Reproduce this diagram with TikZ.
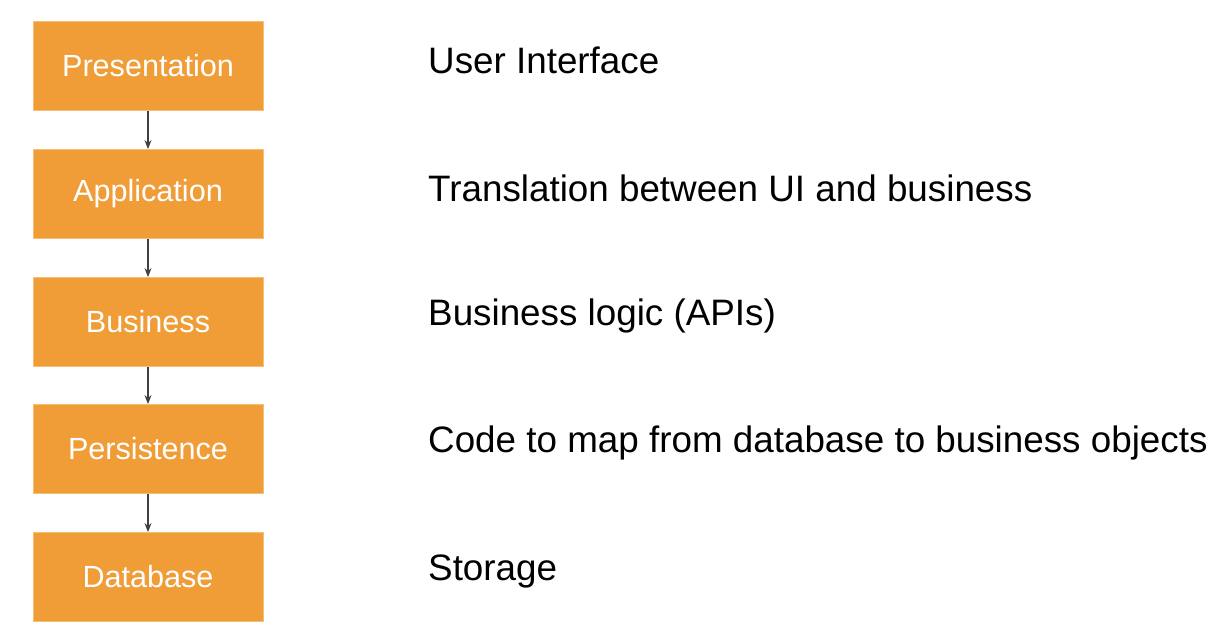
\documentclass[tikz,border=0pt]{standalone}
\usepackage{fontspec}
\setmainfont{Liberation Sans}
\usetikzlibrary{arrows.meta}
\definecolor{boxfill}{HTML}{F09D38}
\definecolor{boxline}{HTML}{F6BF78}
\definecolor{arrowc}{HTML}{404040}
\tikzset{
  layer/.style={draw=boxline, line width=0.8pt, fill=boxfill, minimum width=230pt, minimum height=89pt, inner sep=0pt, text=white, font=\fontsize{30.6}{36}\selectfont},
  desc/.style={anchor=west, inner sep=0pt, text=black, font=\fontsize{36.8}{44}\selectfont},
  link/.style={draw=arrowc, line width=1.4pt, -{Stealth[length=9pt,width=7pt]}}
}
\begin{document}
\begin{tikzpicture}[x=1pt,y=-1pt]
\useasboundingbox (0,0) rectangle (1230,644);
\node[layer] (p) at (148,66) {Presentation};
\node[layer] (a) at (148,194) {Application};
\node[layer] (b) at (148,322) {Business};
\node[layer] (s) at (148,449) {Persistence};
\node[layer] (d) at (148,577) {Database};
\draw[link] (p) -- (a);
\draw[link] (a) -- (b);
\draw[link] (b) -- (s);
\draw[link] (s) -- (d);
\node[desc] (tp) at (428,60) {User Interface};
\node[desc] (ta) at (428,188) {Translation between UI and business};
\node[desc] (tb) at (428,316) {Business logic (APIs)};
\node[desc] (ts) at (428,443) {Code to map from database to business objects};
\node[desc] (td) at (428,571) {Storage};
\end{tikzpicture}
\end{document}
